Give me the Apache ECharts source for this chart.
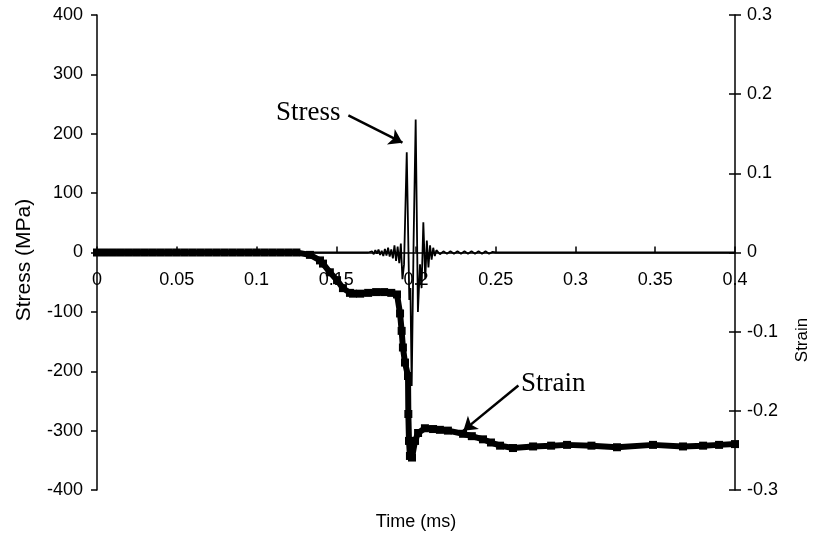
<!DOCTYPE html>
<html><head><meta charset="utf-8">
<script src="https://cdn.jsdelivr.net/npm/echarts@6/dist/echarts.min.js"></script>
<style>html,body{margin:0;padding:0;background:#fff}#c{width:814px;height:537px}</style>
</head><body><div id="c"></div>
<script>
// ---- data ----
const stressTime = [0, 0.17, 0.1725, 0.1735, 0.1745, 0.1755, 0.1765, 0.1775, 0.1785, 0.1795, 0.1805, 0.1815,
  0.1825, 0.1835, 0.1845, 0.1855, 0.1865, 0.1875, 0.1885, 0.1895, 0.1905, 0.1915, 0.1925, 0.1942, 0.1958,
  0.1965, 0.1973, 0.1985, 0.1998, 0.2012, 0.2025, 0.2035, 0.2046, 0.2058, 0.2068, 0.2078, 0.2088, 0.2098,
  0.2108, 0.2118, 0.2128, 0.215, 0.2172, 0.2194, 0.2216, 0.2238, 0.226, 0.2282, 0.2304, 0.2326, 0.2348,
  0.237, 0.2392, 0.2414, 0.2436, 0.2458, 0.248, 0.25, 0.4];
const stressValue = [0, 0, 2, -3, 4, -2, 5, -4, 3, -6, 6, -5,
  8, -7, 5, -10, 12, -14, 10, -18, 15, -45, -20, 169, -80,
  -60, -225, 20, 224, -100, -20, -60, 51, -45, 20, -25, 12, -12,
  8, -6, 4, -3, 2, -2, 2, -2, 2, -2, 2, -2, 2,
  -2, 2, -2, 2, -2, 1, 0, 0];

const strainTime = [0, 0.005, 0.01, 0.015, 0.02, 0.025, 0.03, 0.035, 0.04, 0.045, 0.05, 0.055, 0.06, 0.065,
  0.07, 0.075, 0.08, 0.085, 0.09, 0.095, 0.1, 0.105, 0.11, 0.115, 0.12, 0.125, 0.1335, 0.1398, 0.1417,
  0.146, 0.1505, 0.1542, 0.1586, 0.1605, 0.165, 0.17, 0.175, 0.18, 0.1845, 0.1881, 0.19, 0.191, 0.1918,
  0.1931, 0.195, 0.1952, 0.1956, 0.1962, 0.1975, 0.1994, 0.2013, 0.2056, 0.2107, 0.215, 0.22, 0.2295,
  0.235, 0.242, 0.247, 0.2527, 0.2608, 0.2734, 0.2847, 0.2947, 0.31, 0.326, 0.3486, 0.3674, 0.38, 0.39, 0.4];
const strainValue = [0, 0, 0, 0, 0, 0, 0, 0, 0, 0, 0, 0, 0, 0,
  0, 0, 0, 0, 0, 0, 0, 0, 0, 0, 0, 0, -0.003, -0.010, -0.014,
  -0.025, -0.035, -0.045, -0.051, -0.052, -0.052, -0.051, -0.050, -0.050, -0.051, -0.053, -0.077, -0.099, -0.120,
  -0.139, -0.156, -0.204, -0.238, -0.257, -0.259, -0.238, -0.228, -0.222, -0.223, -0.224, -0.225, -0.229,
  -0.232, -0.236, -0.240, -0.244, -0.247, -0.245, -0.244, -0.243, -0.244, -0.246, -0.243, -0.245, -0.244, -0.243, -0.242];

const timeRange = [0, 0.4, 0.05];
const stressRange = [-400, 400, 100];
const strainRange = [-0.3, 0.3, 0.1];

// annotation arrows (in time / stress units)
const stressArrow = [[0.1576, 231], [0.1915, 185]];
const strainArrow = [[0.2642, -224], [0.2297, -300]];

const stressData = stressTime.map((t, i) => [t, stressValue[i]]);
const strainData = strainTime.map((t, i) => [t, strainValue[i]]);

const FONT = '"Liberation Sans", Arial, sans-serif';
const SERIF = '"Liberation Serif", "Times New Roman", serif';
const axisLine = { show: true, lineStyle: { color: '#000', width: 1.5 } };

const GRID = { left: 97, right: 79, top: 15, bottom: 47 };
const gridH = 537 - GRID.top - GRID.bottom;
// the time axis sits on stress = 0 (middle of the symmetric stress range)
const zeroOffset = -gridH * (0 - stressRange[0]) / (stressRange[1] - stressRange[0]);

const chart = echarts.init(document.getElementById('c'), null, { renderer: 'canvas' });
chart.setOption({
  animation: false,
  backgroundColor: '#fff',
  grid: Object.assign({ containLabel: false }, GRID),
  xAxis: {
    type: 'value', min: timeRange[0], max: timeRange[1], interval: timeRange[2],
    position: 'bottom', offset: zeroOffset,
    axisLine: Object.assign({ onZero: false }, axisLine),
    axisTick: { show: true, inside: true, length: 6, lineStyle: { color: '#000', width: 1.5 } },
    axisLabel: { color: '#000', fontFamily: FONT, fontSize: 18, margin: 19, showMinLabel: true, showMaxLabel: true },
    splitLine: { show: false }
  },
  yAxis: [
    {
      type: 'value', position: 'left', min: stressRange[0], max: stressRange[1], interval: stressRange[2],
      axisLine: axisLine,
      axisTick: { show: true, inside: false, length: 6, lineStyle: { color: '#000', width: 1.5 } },
      axisLabel: { color: '#000', fontFamily: FONT, fontSize: 18, margin: 14 },
      splitLine: { show: false }
    },
    {
      type: 'value', position: 'right', min: strainRange[0], max: strainRange[1], interval: strainRange[2],
      axisLine: axisLine,
      axisTick: { show: true, inside: false, length: 6, lineStyle: { color: '#000', width: 1.5 } },
      axisLabel: { color: '#000', fontFamily: FONT, fontSize: 18, margin: 12 },
      splitLine: { show: false }
    },
    {
      type: 'value', position: 'right', min: strainRange[0], max: strainRange[1], interval: strainRange[2],
      axisLine: { show: false },
      axisTick: { show: true, inside: true, length: 6, lineStyle: { color: '#000', width: 1.5 } },
      axisLabel: { show: false },
      splitLine: { show: false }
    }
  ],
  series: [
    {
      name: 'Strain', type: 'line', yAxisIndex: 1, data: strainData,
      symbol: 'rect', symbolSize: 8, showSymbol: true, showAllSymbol: true,
      itemStyle: { color: '#000' },
      lineStyle: { color: '#000', width: 6 },
      z: 2
    },
    {
      name: 'Stress', type: 'line', yAxisIndex: 0, data: stressData,
      symbol: 'none', showSymbol: false,
      lineStyle: { color: '#000', width: 1.8 },
      z: 3,
      markLine: {
        silent: true, animation: false,
        symbol: ['none', 'arrow'], symbolSize: 13,
        itemStyle: { color: '#000' },
        lineStyle: { color: '#000', width: 2.5, type: 'solid' },
        label: { show: false },
        data: [
          [{ coord: stressArrow[0] }, { coord: stressArrow[1] }],
          [{ coord: strainArrow[0] }, { coord: strainArrow[1] }]
        ]
      }
    }
  ],
  graphic: [
    { type: 'text', x: 24, y: 260, rotation: Math.PI / 2,
      style: { text: 'Stress (MPa)', font: '21px ' + FONT, fill: '#000', align: 'center', verticalAlign: 'middle', textAlign: 'center', textVerticalAlign: 'middle' } },
    { type: 'text', x: 802, y: 340, rotation: Math.PI / 2,
      style: { text: 'Strain', font: '17px ' + FONT, fill: '#000', align: 'center', verticalAlign: 'middle', textAlign: 'center', textVerticalAlign: 'middle' } },
    { type: 'text', x: 416, y: 522,
      style: { text: 'Time (ms)', font: '18px ' + FONT, fill: '#000', align: 'center', verticalAlign: 'middle', textAlign: 'center', textVerticalAlign: 'middle' } },
    { type: 'text', x: 276, y: 113,
      style: { text: 'Stress', font: '27px ' + SERIF, fill: '#000', align: 'left', verticalAlign: 'middle', textAlign: 'left', textVerticalAlign: 'middle' } },
    { type: 'text', x: 521, y: 384,
      style: { text: 'Strain', font: '27px ' + SERIF, fill: '#000', align: 'left', verticalAlign: 'middle', textAlign: 'left', textVerticalAlign: 'middle' } }
  ]
});
</script>
</body></html>
